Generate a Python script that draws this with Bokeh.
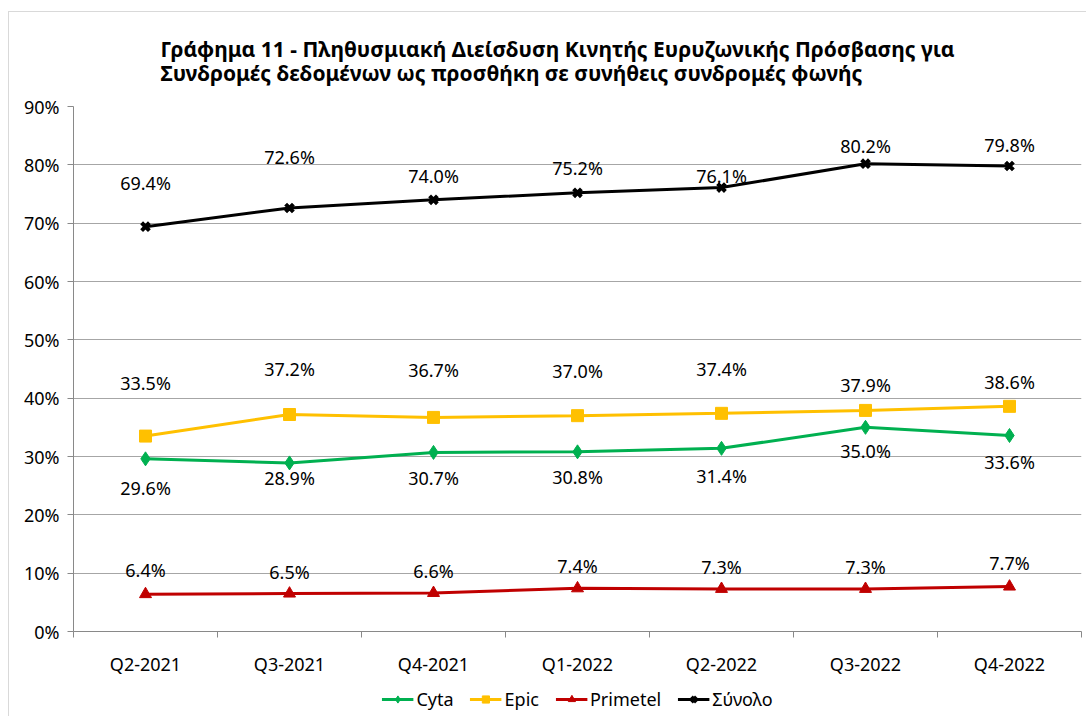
from bokeh.plotting import figure
from bokeh.layouts import column
from bokeh.models import (ColumnDataSource, FixedTicker, PrintfTickFormatter, Legend, LegendItem,
                          Title, Range1d)
from bokeh.core.properties import value
from bokeh.embed import file_html
from bokeh.resources import INLINE

categories = ["Q2-2021", "Q3-2021", "Q4-2021", "Q1-2022", "Q2-2022", "Q3-2022", "Q4-2022"]
cyta = [29.6, 28.9, 30.7, 30.8, 31.4, 35.0, 33.6]
epic = [33.5, 37.2, 36.7, 37.0, 37.4, 37.9, 38.6]
primetel = [6.4, 6.5, 6.6, 7.4, 7.3, 7.3, 7.7]
total = [69.4, 72.6, 74.0, 75.2, 76.1, 80.2, 79.8]
y_ticks = [0, 10, 20, 30, 40, 50, 60, 70, 80, 90]

title_text = ("Γράφημα 11 - Πληθυσμιακή Διείσδυση Κινητής Ευρυζωνικής Πρόσβασης για\n"
              "Συνδρομές δεδομένων ως προσθήκη σε συνήθεις συνδρομές φωνής")

# label offsets (pixels, styling only)
off_total = [-44, -51, -24, -25, -12, -18, -21]
off_epic = [-53, -46, -47, -45, -44, -25, -24]
off_cyta = [29, 15, 26, 25, 28, 24, 26]
off_prim = [-24, -22, -22, -22, -22, -22, -24]

FONT = "Noto Sans"
xs = [i + 0.5 for i in range(len(categories))]

p = figure(frame_width=1008, frame_height=525, output_backend="svg", toolbar_location=None,
           x_range=Range1d(0, len(categories)), y_range=Range1d(0, 90),
           min_border_left=64, min_border_right=5, min_border_top=94, min_border_bottom=50,
           title=None)
p.outline_line_color = None
p.background_fill_color = "white"
p.border_fill_color = "white"

# axes
p.xaxis.ticker = FixedTicker(ticks=xs, minor_ticks=list(range(len(categories) + 1)))
p.xaxis.major_label_overrides = {x: c for x, c in zip(xs, categories)}
p.xaxis.major_tick_line_color = None
p.xaxis.minor_tick_out = 6
p.xaxis.minor_tick_in = 0
p.xaxis.minor_tick_line_color = "#898989"
p.xaxis.axis_line_color = "#898989"
p.xaxis.major_label_text_font = FONT
p.xaxis.major_label_text_font_size = "18px"
p.xaxis.major_label_text_color = "black"
p.xaxis.major_label_standoff = 14

p.yaxis.ticker = FixedTicker(ticks=y_ticks)
p.yaxis.formatter = PrintfTickFormatter(format="%d%%")
p.yaxis.minor_tick_line_color = None
p.yaxis.major_tick_out = 6
p.yaxis.major_tick_in = 0
p.yaxis.major_tick_line_color = "#898989"
p.yaxis.axis_line_color = "#898989"
p.yaxis.major_label_text_font = FONT
p.yaxis.major_label_text_font_size = "18px"
p.yaxis.major_label_text_color = "black"
p.yaxis.major_label_standoff = 8

p.xgrid.grid_line_color = None
p.ygrid.ticker = FixedTicker(ticks=y_ticks)
p.ygrid.grid_line_color = "#a6a6a6"
p.ygrid.grid_line_width = 1

series = [
    ("Cyta", cyta, "#00B050", "diamond", 14, off_cyta),
    ("Epic", epic, "#FFC000", "square", 12, off_epic),
    ("Primetel", primetel, "#C00000", "triangle", 12, off_prim),
    ("Σύνολο", total, "black", "x", 11, off_total),
]

# small strip below the chart that carries the legend; its ranges keep the
# proxy renderers out of view so only their legend glyphs show
pl = figure(width=1077, height=35, output_backend="svg", toolbar_location=None,
            x_range=Range1d(0, 1), y_range=Range1d(0, 1),
            x_axis_type=None, y_axis_type=None, min_border_left=64, min_border_right=5,
            min_border_top=0, min_border_bottom=0, title=None)
pl.outline_line_color = None
pl.xgrid.grid_line_color = None
pl.ygrid.grid_line_color = None
pl.border_fill_color = "white"

items = []
for name, vals, col, mk, sz, offs in series:
    src = ColumnDataSource(dict(x=xs, y=vals, lab=[f"{v:.1f}%" for v in vals], off=offs))
    p.line("x", "y", source=src, line_color=col, line_width=3)
    if mk == "x":
        p.scatter("x", "y", source=src, marker="x", size=sz, line_color=col, line_width=4)
    else:
        p.scatter("x", "y", source=src, marker=mk, size=sz, fill_color=col, line_color=col)
    p.text("x", "y", text="lab", source=src, y_offset="off", text_align="center",
           text_baseline="middle", text_font=value(FONT), text_font_size="18px", text_color="black")
    # legend proxies (outside the strip's visible range)
    ln = pl.line("x", "y", source=src, line_color=col, line_width=3)
    if mk == "x":
        sc = pl.scatter("x", "y", source=src, marker="x", size=sz, line_color=col, line_width=4)
    else:
        sc = pl.scatter("x", "y", source=src, marker=mk, size=sz, fill_color=col, line_color=col)
    items.append(LegendItem(label=name, renderers=[ln, sc]))

legend = Legend(items=items, orientation="horizontal", location="center",
                label_text_font=FONT, label_text_font_size="18px", label_text_color="black",
                glyph_width=32, glyph_height=18, spacing=16, label_standoff=3,
                border_line_color=None, background_fill_alpha=0, padding=0, margin=0)
pl.add_layout(legend)

p.add_layout(Title(text=title_text, align="left", offset=87, text_font=FONT,
                   text_font_size="21px", text_font_style="bold", text_color="black",
                   text_line_height=0.88, standoff=38), "above")

layout = column(p, pl, spacing=0)
layout.styles = {"margin-left": "8px", "margin-top": "11px",
                 "border-left": "1px solid #d9d9d9", "border-top": "1px solid #d9d9d9"}

open("out.html", "w").write(file_html(layout, INLINE))
